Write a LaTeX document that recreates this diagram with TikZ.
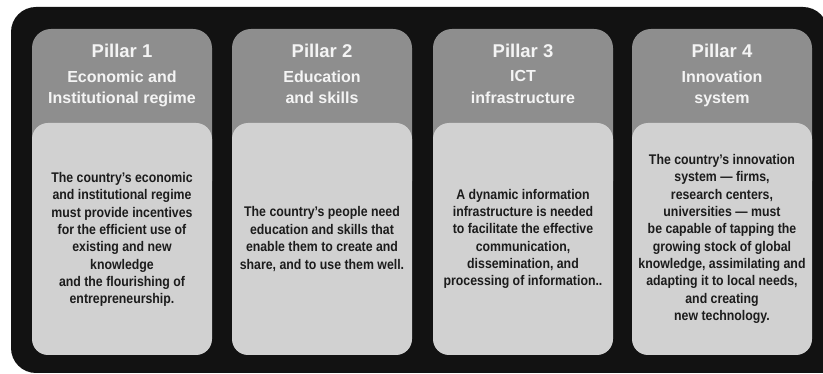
\documentclass[tikz,border=0pt]{standalone}
\usepackage{fontspec}
\setmainfont{Liberation Sans}
\newfontfamily\bodyfont{Liberation Sans}[FakeStretch=0.88]
\definecolor{bgblack}{HTML}{121212}
\definecolor{headgray}{HTML}{8E8E8E}
\definecolor{bodygray}{HTML}{D1D1D1}
\definecolor{headtext}{HTML}{F4F4F4}
\definecolor{bodytext}{HTML}{1C1C1C}
\tikzset{
  headbox/.style={fill=headgray, rounded corners=19pt},
  bodybox/.style={fill=bodygray, rounded corners=16pt},
  titletext/.style={anchor=base, inner sep=0pt, text=headtext, font=\fontsize{18.5}{22}\selectfont\bfseries},
  subtext/.style={anchor=north, inner sep=0pt, align=center, text=headtext, font=\fontsize{16}{21.6}\selectfont\bfseries},
  bodytxt/.style={anchor=center, inner sep=0pt, align=center, text=bodytext, font=\bodyfont\fontsize{14}{17.35}\selectfont\bfseries}
}
\begin{document}
\begin{tikzpicture}[x=1pt,y=-1pt]
\useasboundingbox (0,0) rectangle (823,374);
\clip (0,0) rectangle (823,374);
\fill[white] (0,0) rectangle (823,374);
\fill[bgblack, rounded corners=25pt] (11,7) rectangle (828,373);
\fill[bgblack] (790,330) rectangle (823,373);

% Pillar 1
\fill[headbox] (32,29) rectangle (212,200);
\fill[bodybox] (32,123) rectangle (212,355);
\node[titletext] (t1) at (122,58) {Pillar 1};
\node[subtext] (s1) at (122,70.3) {Economic and\\Institutional regime};
\node[bodytxt] (b1) at (122,239.5) {The country’s economic\\and institutional regime\\must provide incentives\\for the efficient use of\\existing and new\\knowledge\\and the flourishing of\\entrepreneurship.};

% Pillar 2
\fill[headbox] (232,29) rectangle (412,200);
\fill[bodybox] (232,123) rectangle (412,355);
\node[titletext] (t2) at (322,58) {Pillar 2};
\node[subtext] (s2) at (322,70.3) {Education\\and skills};
\node[bodytxt] (b2) at (322,239) {The country’s people need\\education and skills that\\enable them to create and\\share, and to use them well.};

% Pillar 3
\fill[headbox] (433,29) rectangle (613,200);
\fill[bodybox] (433,123) rectangle (613,355);
\node[titletext] (t3) at (523,58) {Pillar 3};
\node[subtext] (s3) at (523,70.3) {ICT\\infrastructure};
\node[bodytxt] (b3) at (523,239) {A dynamic information\\infrastructure is needed\\to facilitate the effective\\communication,\\dissemination, and\\processing of information..};

% Pillar 4
\fill[headbox] (632,29) rectangle (812,200);
\fill[bodybox] (632,123) rectangle (812,355);
\node[titletext] (t4) at (722,58) {Pillar 4};
\node[subtext] (s4) at (722,70.3) {Innovation\\system};
\node[bodytxt] (b4) at (722,239) {The country’s innovation\\system — firms,\\research centers,\\universities — must\\be capable of tapping the\\growing stock of global\\knowledge, assimilating and\\adapting it to local needs,\\and creating\\new technology.};
\end{tikzpicture}
\end{document}
